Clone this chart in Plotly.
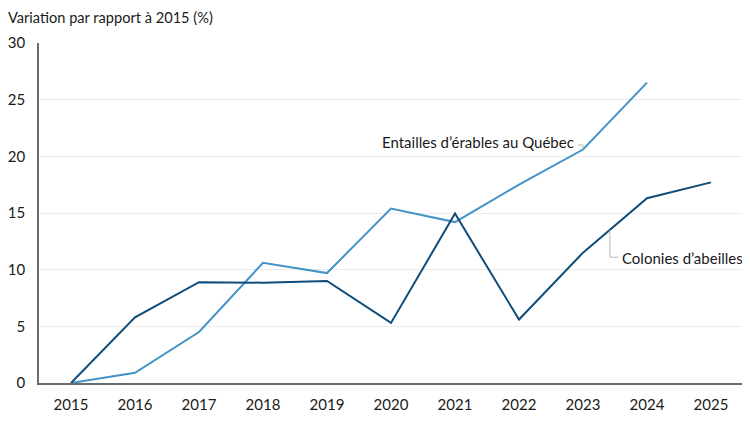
import plotly.graph_objects as go

years = [2015, 2016, 2017, 2018, 2019, 2020, 2021, 2022, 2023, 2024, 2025]
maple_taps = [0, 0.9, 4.5, 10.6, 9.7, 15.4, 14.2, 17.5, 20.6, 26.5, None]
bee_colonies = [0, 5.8, 8.9, 8.85, 9.0, 5.3, 14.95, 5.6, 11.5, 16.3, 17.7]
y_ticks = [0, 5, 10, 15, 20, 25, 30]

maple_color = "#4493c8"
bee_color = "#0f4c7a"
text_color = "#1a1a1a"
leader_color = "#b5b5b5"
font_family = "Lato"

fig = go.Figure()

fig.add_trace(go.Scatter(
	x=years, y=maple_taps, mode="lines",
	line=dict(color=maple_color, width=2),
	name="Entailles d’érables au Québec",
	connectgaps=False
))
fig.add_trace(go.Scatter(
	x=years, y=bee_colonies, mode="lines",
	line=dict(color=bee_color, width=2),
	name="Colonies d’abeilles"
))

# leader lines for the labels
fig.add_shape(type="line", xref="x", yref="y", x0=2022.92, x1=2023.0, y0=21.0, y1=21.0,
	line=dict(color=leader_color, width=1))
fig.add_shape(type="line", xref="x", yref="y", x0=2023.0, x1=2023.0, y0=21.0, y1=20.75,
	line=dict(color=leader_color, width=1))
fig.add_shape(type="line", xref="x", yref="y", x0=2023.42, x1=2023.42, y0=13.5, y1=11.1,
	line=dict(color=leader_color, width=1))
fig.add_shape(type="line", xref="x", yref="y", x0=2023.42, x1=2023.55, y0=11.1, y1=11.1,
	line=dict(color=leader_color, width=1))

fig.add_annotation(x=2022.89, y=21.25, xref="x", yref="y", text="Entailles d’érables au Québec",
	showarrow=False, xanchor="right", yanchor="middle",
	font=dict(family=font_family, size=15, color=text_color))
fig.add_annotation(x=2023.58, y=11.05, xref="x", yref="y", text="Colonies d’abeilles",
	showarrow=False, xanchor="left", yanchor="middle",
	font=dict(family=font_family, size=15, color=text_color))

# the page puts the figure 8px in from the top-left corner, margins allow for it
fig.update_layout(
	width=742, height=414,
	margin=dict(l=31, r=7, t=35, b=39, autoexpand=False),
	plot_bgcolor="white", paper_bgcolor="white",
	showlegend=False,
	font=dict(family=font_family, size=15, color=text_color),
	title=dict(text="Variation par rapport à 2015 (%)", x=0.0, xref="container", xanchor="left",
		y=1 - 10 / 414, yref="container", yanchor="middle",
		font=dict(family=font_family, size=14.6, color=text_color)),
	xaxis=dict(
		range=[2014.5, 2025.5], tickvals=years, ticktext=[str(y) for y in years],
		showgrid=False, zeroline=False, showline=True, linecolor="#6b6b6b", linewidth=1.5,
		ticks="", ticklabelstandoff=7, automargin=False
	),
	yaxis=dict(
		range=[0, 30], tickvals=y_ticks, showgrid=True, gridcolor="#ebebeb", gridwidth=1,
		zeroline=False, showline=True, linecolor="#6b6b6b", linewidth=1.5,
		ticks="", ticklabelstandoff=9, automargin=False
	),
)

fig.write_html("out.html")
